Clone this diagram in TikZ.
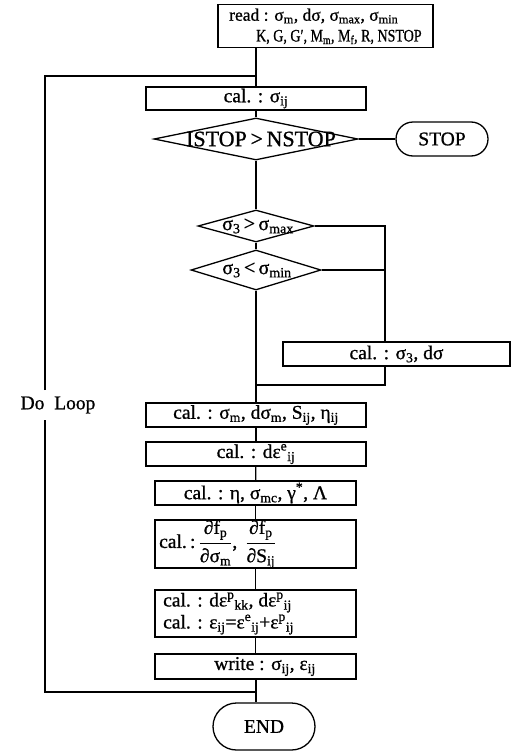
\documentclass[tikz,border=0pt]{standalone}
\usepackage{fontspec}
\setmainfont{Liberation Serif}[BoldFont={Liberation Serif},BoldFeatures={FakeBold=0.9}]
\usetikzlibrary{shapes.geometric,shapes.misc}
\newcommand\mysb[1]{\textsubscript{#1}}
\newcommand\mysp[1]{\textsuperscript{#1}}
\begin{document}
\begin{tikzpicture}[x=1pt,y=-1pt,
  font=\fontsize{19.5}{22}\selectfont\bfseries,
  ln/.style={line width=1.3pt},
  box/.style={draw, line width=1.3pt, rectangle, inner sep=0pt},
  dia/.style={draw, line width=1.3pt, diamond, inner sep=0pt},
  term/.style={draw, line width=1.3pt, rounded rectangle, inner sep=0pt},
  txt/.style={inner sep=0pt}]
\useasboundingbox (0,0) rectangle (513,755);
% read box
\node[box, minimum width=215, minimum height=43] (read) at (325.5,26) {};
\node[txt, anchor=west, font=\fontsize{17.5}{20}\selectfont\bfseries] (readA) at (229,16) {read : σ\mysb{m}, dσ, σ\mysb{max}, σ\mysb{min}};
\node[txt, anchor=west, font=\fontsize{17.5}{20}\selectfont\bfseries] (readB) at (256,37) {\scalebox{0.8}[1]{K, G, G′, M\mysb{m}, M\mysb{f}, R, NSTOP}};
% loop join
\coordinate (j1) at (256,76);
\node[box, minimum width=220, minimum height=23] (sij) at (256,98.5) {cal. : σ\mysb{ij}};
\node[dia, minimum width=204, minimum height=42] (dstop) at (256,139) {};
\node[txt, font=\fontsize{22}{24}\selectfont\bfseries] (dstopT) at (261,139) {ISTOP\,>\,NSTOP};
\node[term, minimum width=92, minimum height=34] (stop) at (442,139) {STOP};
\node[dia, minimum width=116, minimum height=32] (d1) at (256,226) {};
\node[txt, font=\fontsize{20}{23}\selectfont\bfseries] (d1T) at (258,226) {σ\mysb{3}\,>\,σ\mysb{max}};
\node[dia, minimum width=130, minimum height=40] (d2) at (256,270) {};
\node[txt, font=\fontsize{20}{23}\selectfont\bfseries] (d2T) at (257,270) {σ\mysb{3}\,<\,σ\mysb{min}};
\node[box, minimum width=227, minimum height=24] (s3) at (396.5,354) {cal. : σ\mysb{3}, dσ};
\coordinate (r1) at (385,226);
\coordinate (r2) at (385,270);
\coordinate (r3) at (385,385);
\coordinate (j2) at (256,385);
\node[box, minimum width=220, minimum height=24] (sm) at (256,415) {cal. : σ\mysb{m}, dσ\mysb{m}, S\mysb{ij}, η\mysb{ij}};
\node[box, minimum width=220, minimum height=24] (de) at (256,454) {cal. : dε\mysp{e}\mysb{ij}};
\node[box, minimum width=201, minimum height=24] (eta) at (255.5,493) {cal. : η,\ σ\mysb{mc},\ γ\mysp{*},\ Λ};
\node[box, minimum width=201, minimum height=48] (df) at (255.5,544) {};
\node[txt, anchor=west] (dfT) at (159,544) {cal.\,:\,${\displaystyle\frac{\mbox{∂f\mysb{p}}}{\mbox{∂σ\mysb{m}}}}$,\, ${\displaystyle\frac{\mbox{∂f\mysb{p}}}{\mbox{∂S\mysb{ij}}}}$};
\node[box, minimum width=201, minimum height=47] (dep) at (255.5,613.5) {};
\node[txt, anchor=west, align=left] (depT) at (163,613.5) {cal. : dε\mysp{p}\mysb{kk}, dε\mysp{p}\mysb{ij}\\cal. : ε\mysb{ij}=ε\mysp{e}\mysb{ij}+ε\mysp{p}\mysb{ij}};
\node[box, minimum width=201, minimum height=25] (wr) at (255.5,666.5) {};
\node[txt] (wrT) at (265,666.5) {write : σ\mysb{ij}, ε\mysb{ij}};
\coordinate (j3) at (256,692);
\node[term, minimum width=102, minimum height=47] (end) at (264,726.5) {END};
% loop
\coordinate (l1) at (45,692);
\coordinate (l2) at (45,420);
\coordinate (l3) at (45,390);
\coordinate (l4) at (45,76);
\node[txt] (doloop) at (58,405) {Do\ \ Loop};
% connectors
\draw[ln] (read.south -| j1) -- (sij.north);
\draw[ln] (sij) -- (dstop);
\draw[ln] (dstop.east) -- (stop.west);
\draw[ln] (dstop.south) -- (d1.north);
\draw[ln] (d1.south) -- (d2.north);
\draw[ln] (d2.south) -- (sm.north);
\draw[ln] (d1.east) -- (r1) -- (s3.north -| r1);
\draw[ln] (d2.east) -- (r2);
\draw[ln] (s3.south -| r3) -- (r3) -- (j2);
\draw[ln] (sm) -- (de);
\draw[ln] (de) -- (eta);
\draw[ln] (eta) -- (df);
\draw[ln] (df) -- (dep);
\draw[ln] (dep) -- (wr);
\draw[ln] (wr.south -| j3) -- (end.north -| j3);
\draw[ln] (j3) -- (l1) -- (l2);
\draw[ln] (l3) -- (l4) -- (j1);
\end{tikzpicture}
\end{document}
